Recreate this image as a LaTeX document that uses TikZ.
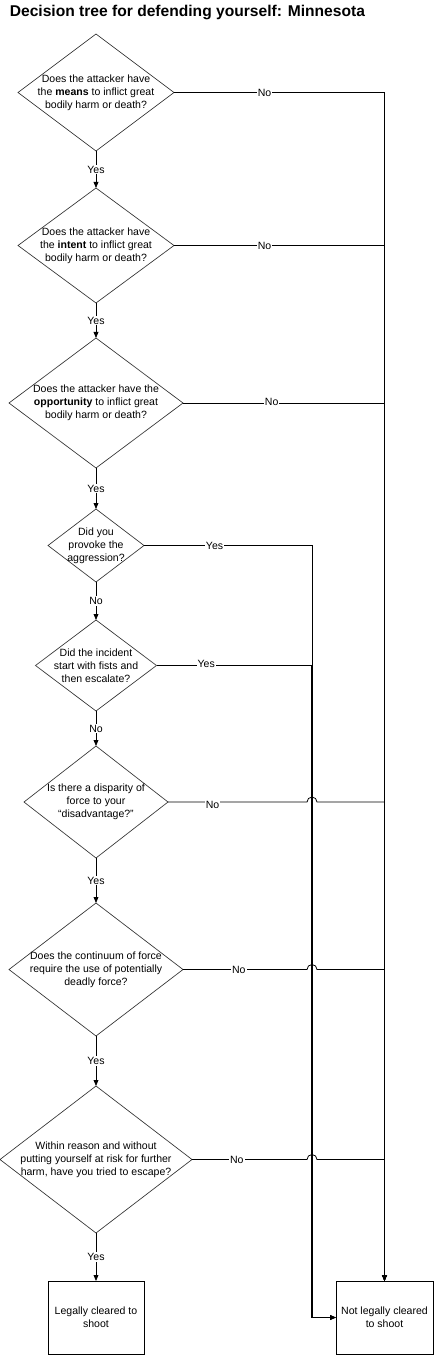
\documentclass[tikz,border=0pt]{standalone}
\usepackage{fontspec}
\setmainfont{Liberation Sans}
\usetikzlibrary{arrows.meta,positioning,shapes.geometric,calc}

\begin{document}
\begin{tikzpicture}[
  font=\fontsize{7.9}{9.75}\selectfont,
  line width=0.6pt,
  q/.style={draw=black!80, line width=0.5pt, diamond, aspect=1.33, inner sep=-4pt, outer sep=0pt, align=center},
  res/.style={draw, line width=0.6pt, minimum width=72pt, minimum height=54.75pt, inner sep=0pt, outer sep=0pt, align=center},
  arr/.style={-{Triangle[length=4.5pt,width=3.6pt]}},
  lbl/.style={fill=white, inner sep=0.8pt}]
  \useasboundingbox (0,0) rectangle (324.75pt,-1016.25pt);
  \node[anchor=base west, font=\fontsize{11.7}{14}\selectfont\bfseries] (title) at (3.75pt,-12.75pt) {Decision tree for defending yourself: Minnesota};
  % questions
  \node[q, minimum width=117pt, minimum height=87.75pt, anchor=north] (means) at (72pt,-25.5pt) {Does the attacker have\\the \textbf{means} to inflict great\\bodily harm or death?};
  \node[q, minimum width=117pt, minimum height=86.25pt, below=27.75pt of means] (intent) {Does the attacker have\\the \textbf{intent} to inflict great\\bodily harm or death?};
  \node[q, minimum width=130.5pt, minimum height=97.5pt, below=26.25pt of intent] (opport) {Does the attacker have the\\\textbf{opportunity} to inflict great\\bodily harm or death?};
  \node[q, minimum width=72pt, minimum height=54.75pt, below=30.75pt of opport] (provoke) {Did you\\provoke the\\aggression?};
  \node[q, minimum width=90.75pt, minimum height=68.25pt, below=28.5pt of provoke] (fists) {Did the incident\\start with fists and\\then escalate?};
  \node[q, minimum width=108pt, minimum height=84pt, below=26.25pt of fists] (disparity) {Is there a disparity of\\force to your\\“disadvantage?”};
  \node[q, minimum width=130.5pt, minimum height=99.75pt, below=33.75pt of disparity] (continuum) {Does the continuum of force\\require the use of potentially\\deadly force?};
  \node[q, minimum width=144pt, minimum height=110.25pt, below=37.5pt of continuum] (escape) {Within reason and without\\putting yourself at risk for further\\harm, have you tried to escape?};
  % outcomes
  \node[res, below=36pt of escape] (legal) {Legally cleared to\\shoot};
  \node[res, minimum width=72.75pt, right=144pt of legal] (notlegal) {Not legally cleared\\to shoot};
  \coordinate (bus) at ($(notlegal.west)+(-18pt,0)$);
  % yes / no down the left
  \draw[arr] (means) -- node[lbl]{Yes} (intent);
  \draw[arr] (intent) -- node[lbl]{Yes} (opport);
  \draw[arr] (opport) -- node[lbl]{Yes} (provoke);
  \draw[arr] (provoke) -- node[lbl]{No} (fists);
  \draw[arr] (fists) -- node[lbl]{No} (disparity);
  \draw[arr] (disparity) -- node[lbl]{Yes} (continuum);
  \draw[arr] (continuum) -- node[lbl]{Yes} (escape);
  \draw[arr] (escape) -- node[lbl]{Yes} (legal);
  % answers that rule it out
  \draw[arr] (means.east) -- node[lbl,pos=0.43]{No} (means.east -| notlegal) -- (notlegal);
  \draw[arr] (intent.east) -- node[lbl,pos=0.43]{No} (intent.east -| notlegal) -- (notlegal);
  \draw[arr] (opport.east) -- node[lbl,pos=0.44,yshift=0.8pt]{No} (opport.east -| notlegal) -- (notlegal);
  \draw[arr] (provoke.east) -- node[lbl,pos=0.42]{Yes} (provoke.east -| bus) |- (notlegal);
  \draw[arr, line width=0.9pt] (fists.east) -- node[lbl,pos=0.32,yshift=1.2pt]{Yes} (fists.east -| bus) |- (notlegal);
  \draw[arr] (disparity.east) -- node[lbl,pos=0.32,yshift=-2pt]{No} ($(disparity.east -| bus)+(-3.75pt,0)$) arc[start angle=180, end angle=0, radius=3.75pt] -- (disparity.east -| notlegal) -- (notlegal);
  \draw[arr] (continuum.east) -- node[lbl,pos=0.45]{No} ($(continuum.east -| bus)+(-3.75pt,0)$) arc[start angle=180, end angle=0, radius=3.75pt] -- (continuum.east -| notlegal) -- (notlegal);
  \draw[arr] (escape.east) -- node[lbl,pos=0.39]{No} ($(escape.east -| bus)+(-3.75pt,0)$) arc[start angle=180, end angle=0, radius=3.75pt] -- (escape.east -| notlegal) -- (notlegal);
\end{tikzpicture}
\end{document}
